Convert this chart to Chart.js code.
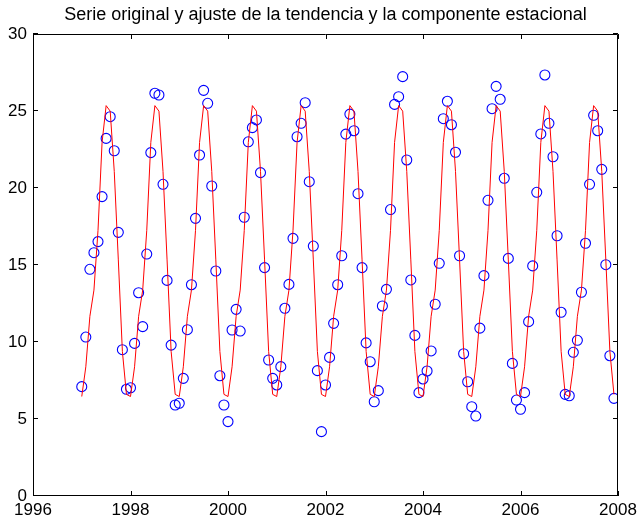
<!DOCTYPE html>
<html>
<head>
<meta charset="utf-8">
<script src="https://cdn.jsdelivr.net/npm/chart.js@4/dist/chart.umd.min.js"></script>
<style>
  html, body { margin: 0; padding: 0; background: #fff; }
  canvas { display: block; }
</style>
</head>
<body>
<canvas id="grafico" width="641" height="520"></canvas>
<script>
// Serie mensual observada, un array por año (enero a diciembre)
const anios = [1997, 1998, 1999, 2000, 2001, 2002, 2003, 2004, 2005, 2006, 2007];
const serie1997 = [7.10, 10.32, 14.72, 15.80, 16.52, 19.44, 23.22, 24.63, 22.42, 17.12, 9.50, 6.93];
const serie1998 = [7.03, 9.91, 13.20, 11.00, 15.71, 22.30, 26.15, 26.04, 20.24, 14.00, 9.80, 5.91];
const serie1999 = [6.02, 7.64, 10.80, 13.72, 18.03, 22.14, 26.34, 25.50, 20.13, 14.61, 7.81, 5.91];
const serie2000 = [4.83, 10.78, 12.12, 10.71, 18.10, 23.00, 23.92, 24.42, 21.00, 14.83, 8.83, 7.64];
const serie2001 = [7.21, 8.40, 12.19, 13.74, 16.73, 23.33, 24.20, 25.54, 20.41, 16.23, 8.14, 4.18];
const serie2002 = [7.21, 9.00, 11.21, 13.72, 15.60, 23.50, 24.80, 23.72, 19.63, 14.83, 9.94, 8.72];
const serie2003 = [6.12, 6.84, 12.34, 13.42, 18.60, 25.43, 25.93, 27.23, 21.82, 14.03, 10.43, 6.71];
const serie2004 = [7.60, 8.12, 9.42, 12.45, 15.11, 24.50, 25.63, 24.11, 22.32, 15.60, 9.24, 7.42];
const serie2005 = [5.80, 5.19, 10.90, 14.31, 19.20, 25.15, 26.60, 25.76, 20.63, 15.43, 8.61, 6.23];
const serie2006 = [5.63, 6.71, 11.32, 14.94, 19.72, 23.51, 27.34, 24.20, 22.03, 16.90, 11.93, 6.60];
const serie2007 = [6.51, 9.33, 10.11, 13.23, 16.41, 20.24, 24.72, 23.72, 21.21, 15.02, 9.11, 6.34];
const seriePorAnio = [serie1997, serie1998, serie1999, serie2000, serie2001, serie2002,
                      serie2003, serie2004, serie2005, serie2006, serie2007];

// Ajuste: tendencia constante más componente estacional (enero a diciembre)
const componenteEstacional = [6.46, 8.39, 11.67, 13.37, 17.25, 22.96, 25.35, 24.99, 21.08, 15.33, 9.39, 6.60];

// Marcas de los ejes
const ticksX = [1996, 1998, 2000, 2002, 2004, 2006, 2008];
const ticksY = [0, 5, 10, 15, 20, 25, 30];

const titulo = 'Serie original y ajuste de la tendencia y la componente estacional';
const fuente = '"Liberation Sans", Arial, Helvetica, sans-serif';

const puntosSerie = [];
const puntosAjuste = [];
anios.forEach((anio, i) => {
  seriePorAnio[i].forEach((v, mes) => {
    puntosSerie.push({ x: anio + mes / 12, y: v });
    puntosAjuste.push({ x: anio + mes / 12, y: componenteEstacional[mes] });
  });
});

// Marco del área de dibujo con marcas hacia dentro, y título centrado sobre ella
const marco = {
  id: 'marco',
  afterDraw(chart) {
    const { ctx, chartArea: a, scales: { x, y } } = chart;
    const L = 5;
    ctx.save();
    ctx.strokeStyle = '#000';
    ctx.lineWidth = 1;
    ctx.beginPath();
    ctx.rect(a.left + 0.5, a.top + 0.5, a.right - a.left - 1, a.bottom - a.top - 1);
    ticksX.forEach(v => {
      const px = Math.round(x.getPixelForValue(v)) + 0.5;
      ctx.moveTo(px, a.bottom); ctx.lineTo(px, a.bottom - L);
      ctx.moveTo(px, a.top); ctx.lineTo(px, a.top + L);
    });
    ticksY.forEach(v => {
      const py = Math.round(y.getPixelForValue(v)) - 0.5;
      ctx.moveTo(a.left, py); ctx.lineTo(a.left + L, py);
      ctx.moveTo(a.right, py); ctx.lineTo(a.right - L, py);
    });
    ctx.stroke();
    ctx.fillStyle = '#000';
    ctx.font = '18px ' + fuente;
    ctx.textAlign = 'center';
    ctx.textBaseline = 'middle';
    ctx.fillText(titulo, (a.left + a.right) / 2, 15);
    ctx.restore();
  }
};

new Chart(document.getElementById('grafico'), {
  type: 'scatter',
  data: {
    datasets: [
      {
        label: 'Serie original',
        data: puntosSerie,
        showLine: false,
        pointStyle: 'circle',
        pointRadius: 5,
        pointHoverRadius: 5,
        pointBorderWidth: 1.1,
        pointBorderColor: '#0000ff',
        pointBackgroundColor: 'rgba(0,0,0,0)',
        order: 2
      },
      {
        label: 'Ajuste',
        data: puntosAjuste,
        showLine: true,
        borderColor: '#ff0000',
        borderWidth: 1,
        pointRadius: 0,
        pointHoverRadius: 0,
        tension: 0,
        fill: false,
        order: 1
      }
    ]
  },
  options: {
    responsive: false,
    animation: false,
    events: [],
    layout: { padding: { top: 34, right: 23, left: 0, bottom: 0 } },
    plugins: {
      legend: { display: false },
      title: { display: false },
      tooltip: { enabled: false }
    },
    scales: {
      x: {
        type: 'linear',
        min: 1996,
        max: 2008,
        afterBuildTicks: s => { s.ticks = ticksX.map(v => ({ value: v })); },
        afterFit: s => { s.height = 24; },
        grid: { display: false, drawTicks: false },
        border: { display: false },
        ticks: {
          padding: 4,
          color: '#000',
          font: { family: fuente, size: 17 },
          maxRotation: 0,
          callback: v => String(v)
        }
      },
      y: {
        type: 'linear',
        min: 0,
        max: 30,
        afterBuildTicks: s => { s.ticks = ticksY.map(v => ({ value: v })); },
        afterFit: s => { s.width = 33; },
        grid: { display: false, drawTicks: false },
        border: { display: false },
        ticks: {
          padding: 6,
          color: '#000',
          font: { family: fuente, size: 17 },
          callback: v => String(v)
        }
      }
    }
  },
  plugins: [marco]
});
</script>
</body>
</html>
